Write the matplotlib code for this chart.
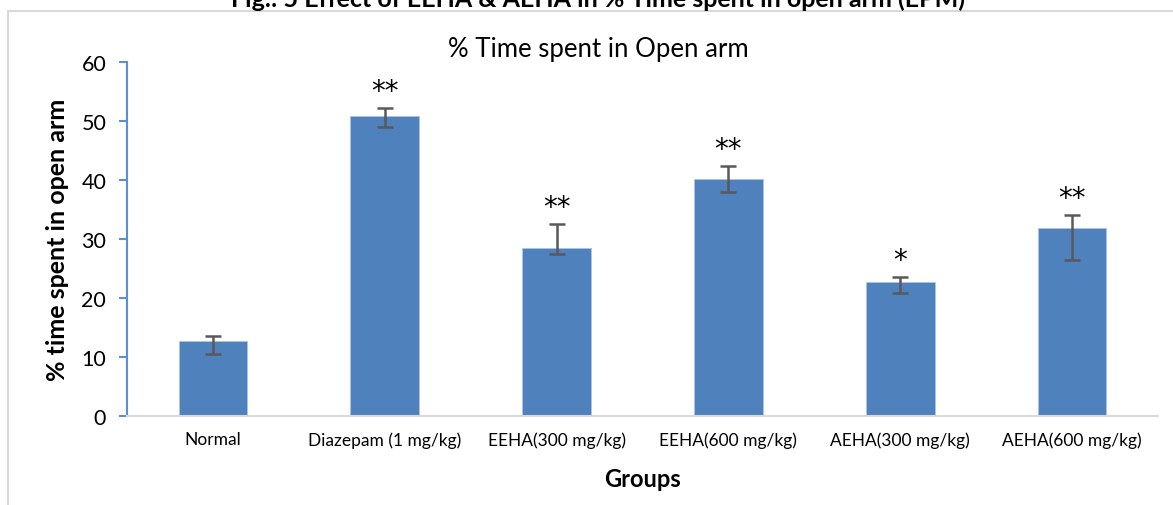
import numpy as np
import matplotlib
matplotlib.use("Agg")
import matplotlib.pyplot as plt
from matplotlib.patches import Rectangle

plt.rcParams["font.family"] = ["Lato", "DejaVu Sans"]

groups = ["Normal", "Diazepam (1 mg/kg)", "EEHA(300 mg/kg)",
          "EEHA(600 mg/kg)", "AEHA(300 mg/kg)", "AEHA(600 mg/kg)"]
time_open = [12.7, 50.9, 28.4, 40.2, 22.7, 31.8]
err_low = [2.2, 2.0, 0.9, 2.2, 1.8, 5.3]
err_high = [0.9, 1.3, 4.1, 2.2, 0.9, 2.2]
signif = ["", "**", "**", "**", "*", "**"]

BAR = "#4F81BD"
AXIS_BLUE = "#5B8FD0"

fig = plt.figure(figsize=(11.73, 5.06), dpi=100)

# outer chart frame (runs off the right and bottom edges)
fig.patches.append(Rectangle((7.5 / 1173, -0.05), 1.2, 1 - 12 / 506 + 0.05,
                             transform=fig.transFigure, fill=False,
                             edgecolor="#D9D9D9", linewidth=1.5))

fig.text(598 / 1173, 1 - 7 / 506,
         "Fig.: 5 Effect of EEHA & AEHA in % Time spent in open arm (EPM)",
         ha="center", va="baseline", fontsize=18, fontweight="bold")

ax = fig.add_axes([127 / 1173, 1 - 417 / 506, (1158 - 127) / 1173, (417 - 63) / 506])

x = np.arange(len(groups))
ax.bar(x, time_open, width=0.4, color=BAR, edgecolor="#A9C4E6", linewidth=0.6,
       zorder=2)
ax.errorbar(x, time_open, yerr=[err_low, err_high], fmt="none",
            ecolor="#595959", elinewidth=1.8, capsize=5.5, capthick=1.8, zorder=3)

for xi, v, hi, s in zip(x, time_open, err_high, signif):
    if s:
        ax.text(xi, v + hi + 0.5, s, ha="center", va="bottom", fontsize=20,
                family=["DejaVu Sans"])

ax.set_xlim(-0.5, len(groups) - 0.5)
ax.set_ylim(0, 60)
ax.set_yticks(np.arange(0, 61, 10))
ax.set_xticks(x)
ax.set_xticklabels(groups, fontsize=12.5)
ax.tick_params(axis="x", length=0, pad=11)
ax.tick_params(axis="y", direction="out", length=6, width=1.5,
               color=AXIS_BLUE, labelsize=15.5, pad=9)

for side in ["top", "right"]:
    ax.spines[side].set_visible(False)
ax.spines["left"].set_color(AXIS_BLUE)
ax.spines["left"].set_linewidth(1.5)
ax.spines["bottom"].set_color("#D9D9D9")
ax.spines["bottom"].set_linewidth(1.5)

fig.text(598 / 1173, 1 - 57 / 506, "% Time spent in Open arm",
         ha="center", va="baseline", fontsize=18.5)
ax.set_ylabel("% time spent in open arm", fontsize=18, fontweight="bold",
              labelpad=9)
ax.set_xlabel("Groups", fontsize=17, fontweight="bold", labelpad=14)

fig.savefig("out.png", dpi=100)
plt.close(fig)
